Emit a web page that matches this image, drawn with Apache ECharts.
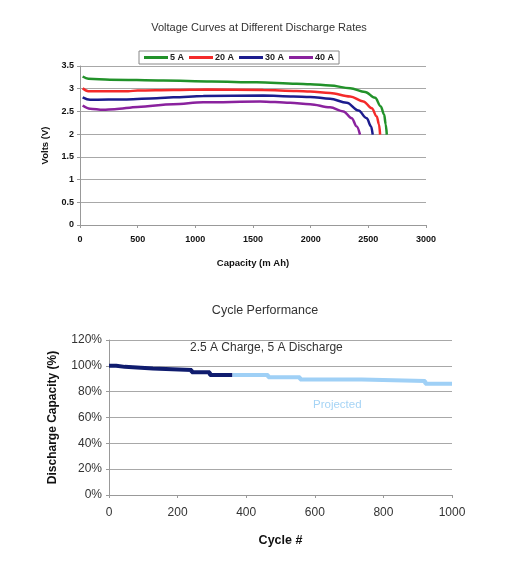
<!DOCTYPE html>
<html><head><meta charset="utf-8">
<script src="https://cdn.jsdelivr.net/npm/echarts@6/dist/echarts.min.js"></script>
<style>html,body{margin:0;padding:0;background:#fff}#c{width:532px;height:567px}</style>
</head><body><div id="c"></div>
<script>
// ---- Voltage curves (capacity mAh, volts) ----
const seriesNames = ['5 A', '20 A', '30 A', '40 A'];
const cap5A  = [23, 72, 260, 723, 1142, 1532, 1879, 1995, 2168, 2342, 2472, 2559, 2608, 2637, 2651, 2660];
const volt5A = [3.27, 3.22, 3.20, 3.18, 3.16, 3.14, 3.11, 3.10, 3.07, 3.01, 2.93, 2.80, 2.61, 2.43, 2.21, 1.99];
const cap20A  = [23, 72, 419, 500, 809, 1100, 1590, 1879, 1995, 2168, 2342, 2457, 2530, 2573, 2593, 2602];
const volt20A = [3.01, 2.945, 2.945, 2.96, 2.97, 2.98, 2.97, 2.95, 2.94, 2.905, 2.83, 2.72, 2.57, 2.39, 2.21, 1.99];
const cap30A  = [23, 87, 405, 665, 809, 1069, 1590, 1850, 1995, 2168, 2313, 2414, 2486, 2524, 2538];
const volt30A = [2.81, 2.755, 2.765, 2.79, 2.81, 2.84, 2.85, 2.83, 2.82, 2.78, 2.69, 2.52, 2.35, 2.17, 1.99];
const cap40A  = [23, 87, 200, 300, 500, 809, 1069, 1561, 1821, 1995, 2168, 2284, 2356, 2399, 2428];
const volt40A = [2.63, 2.56, 2.535, 2.55, 2.60, 2.66, 2.70, 2.72, 2.69, 2.66, 2.59, 2.50, 2.35, 2.17, 1.99];

// ---- Cycle performance (cycle #, % capacity), step changes ----
const measuredCycles = [0, 21, 46, 128, 241, 294, 360];
const measuredPct    = [100, 99.2, 98, 96.7, 95, 93, 93];
const projectedCycles = [360, 464, 557, 737, 922, 1000];
const projectedPct    = [93, 91.1, 89.4, 88.3, 86.1, 86.1];

const zip = (a, b) => a.map((v, i) => [v, b[i]]);
const FONT = 'Liberation Sans, Arial, sans-serif';
const colors = ['#22922a', '#f42a2a', '#1c1c8e', '#8a229e'];
const grid = '#a8a8a8';
const plain = v => String(v);

const chart = echarts.init(document.getElementById('c'), null, {renderer: 'canvas'});
const topData = [zip(cap5A, volt5A), zip(cap20A, volt20A), zip(cap30A, volt30A), zip(cap40A, volt40A)];

chart.setOption({
  backgroundColor: '#fff',
  animation: false,
  textStyle: {fontFamily: FONT},
  title: [
    {text: 'Voltage Curves at Different Discharge Rates', left: 259, textAlign: 'center', top: 22, padding: 0,
     textStyle: {fontSize: 11, fontWeight: 'normal', color: '#333', fontFamily: FONT}},
    {text: 'Cycle Performance', left: 265, textAlign: 'center', top: 304, padding: 0,
     textStyle: {fontSize: 12.5, fontWeight: 'normal', color: '#333', fontFamily: FONT}}
  ],
  legend: {
    data: seriesNames, left: 139, top: 51, padding: [2, 5], itemGap: 5,
    itemWidth: 24, itemHeight: 3, icon: 'rect',
    borderColor: '#888', borderWidth: 1,
    textStyle: {fontSize: 9, fontWeight: 'bold', color: '#222', fontFamily: FONT, padding: [0, 0, 0, -3]}
  },
  grid: [
    {left: 80, right: 106, top: 66, bottom: 342},
    {left: 109, right: 80, top: 340, bottom: 72}
  ],
  xAxis: [
    {type: 'value', gridIndex: 0, min: 0, max: 3000, interval: 500,
     name: 'Capacity (m Ah)', nameLocation: 'middle', nameGap: 33,
     nameTextStyle: {fontSize: 9.5, fontWeight: 'bold', color: '#111', fontFamily: FONT},
     axisLine: {show: true, lineStyle: {color: '#999'}},
     axisTick: {show: true, length: 3, lineStyle: {color: '#999'}},
     axisLabel: {fontSize: 9, fontWeight: 'bold', color: '#111', margin: 10, fontFamily: FONT, formatter: plain},
     splitLine: {show: false}},
    {type: 'value', gridIndex: 1, min: 0, max: 1000, interval: 200,
     name: 'Cycle #', nameLocation: 'middle', nameGap: 39,
     nameTextStyle: {fontSize: 12.5, fontWeight: 'bold', color: '#111', fontFamily: FONT},
     axisLine: {show: true, lineStyle: {color: '#999'}},
     axisTick: {show: true, length: 3, lineStyle: {color: '#999'}},
     axisLabel: {fontSize: 12, color: '#333', margin: 12, fontFamily: FONT, formatter: plain},
     splitLine: {show: false}}
  ],
  yAxis: [
    {type: 'value', gridIndex: 0, min: 0, max: 3.5, interval: 0.5,
     name: 'Volts (V)', nameLocation: 'middle', nameGap: 27, nameRotate: 90,
     nameTextStyle: {fontSize: 9.5, fontWeight: 'bold', color: '#111', fontFamily: FONT},
     axisLine: {show: true, lineStyle: {color: '#999'}},
     axisTick: {show: true, length: 3, lineStyle: {color: '#999'}},
     axisLabel: {fontSize: 9, fontWeight: 'bold', color: '#111', margin: 6, fontFamily: FONT},
     splitLine: {show: true, lineStyle: {color: grid, width: 1}}},
    {type: 'value', gridIndex: 1, min: 0, max: 120, interval: 20,
     name: 'Discharge Capacity (%)', nameLocation: 'middle', nameGap: 50, nameRotate: 90,
     nameTextStyle: {fontSize: 12, fontWeight: 'bold', color: '#111', fontFamily: FONT},
     axisLine: {show: true, lineStyle: {color: '#999'}},
     axisTick: {show: true, length: 3, lineStyle: {color: '#999'}},
     axisLabel: {fontSize: 12, color: '#333', margin: 7, formatter: '{value}%', fontFamily: FONT},
     splitLine: {show: true, lineStyle: {color: grid, width: 1}}}
  ],
  graphic: [
    {type: 'text', left: 190, top: 342, style: {text: '2.5 A Charge, 5 A Discharge', font: '12px ' + FONT, fill: '#333'}},
    {type: 'text', left: 313, top: 399, style: {text: 'Projected', font: '11.5px ' + FONT, fill: '#a6d4f5'}}
  ],
  series: [
    ...seriesNames.map((n, i) => ({
      name: n, type: 'line', xAxisIndex: 0, yAxisIndex: 0, data: topData[i],
      showSymbol: false, smooth: 0.35, smoothMonotone: 'x',
      lineStyle: {color: colors[i], width: 2.5}, itemStyle: {color: colors[i]}
    })),
    {name: 'Measured', type: 'line', xAxisIndex: 1, yAxisIndex: 1, data: zip(measuredCycles, measuredPct),
     step: 'end', showSymbol: false, lineStyle: {color: '#0f1c6e', width: 4}, itemStyle: {color: '#0f1c6e'}},
    {name: 'Projected', type: 'line', xAxisIndex: 1, yAxisIndex: 1, data: zip(projectedCycles, projectedPct),
     step: 'end', showSymbol: false, lineStyle: {color: '#9fd0f6', width: 4}, itemStyle: {color: '#9fd0f6'}}
  ]
});
</script></body></html>
